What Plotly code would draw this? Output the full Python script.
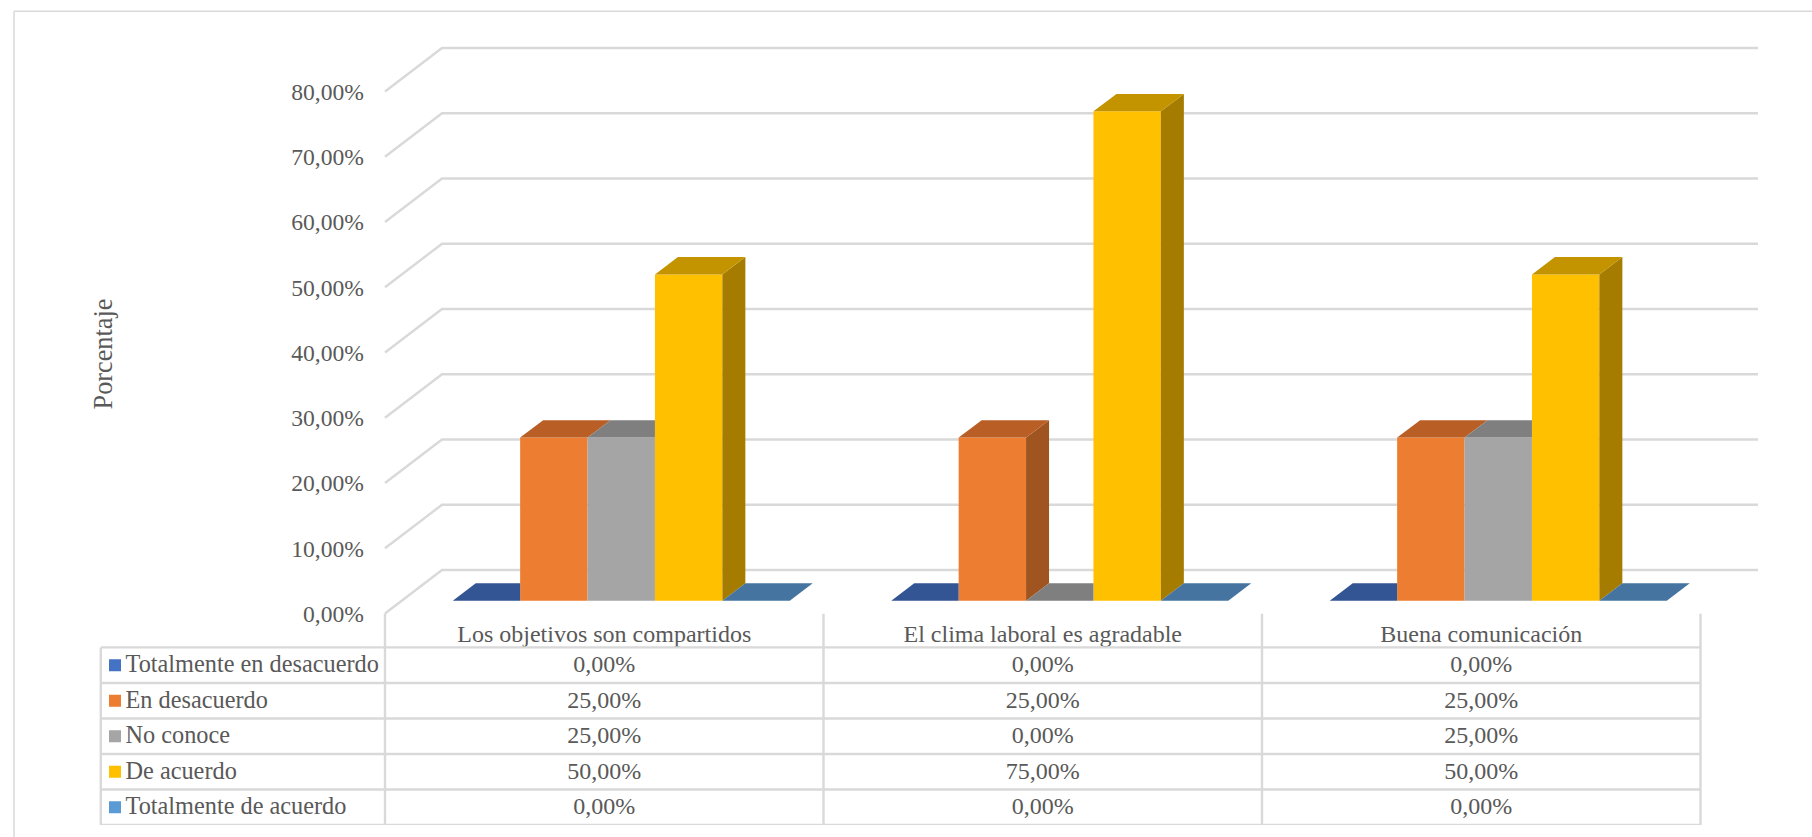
import plotly.graph_objects as go

categories = ["Los objetivos son compartidos", "El clima laboral es agradable", "Buena comunicación"]
series_names = ["Totalmente en desacuerdo", "En desacuerdo", "No conoce", "De acuerdo", "Totalmente de acuerdo"]
totalmente_en_desacuerdo = [0, 0, 0]
en_desacuerdo = [25, 25, 25]
no_conoce = [25, 0, 25]
de_acuerdo = [50, 75, 50]
totalmente_de_acuerdo = [0, 0, 0]
y_ticks = [0, 10, 20, 30, 40, 50, 60, 70, 80]

series_values = [totalmente_en_desacuerdo, en_desacuerdo, no_conoce, de_acuerdo, totalmente_de_acuerdo]
front_colors = ["#4472C4", "#ED7D31", "#A5A5A5", "#FFC000", "#5B9BD5"]
top_colors = ["#335593", "#B95E25", "#7F7F7F", "#C49300", "#44749F"]
side_colors = ["#2A4A80", "#A0541F", "#6E6E6E", "#A67C00", "#3A6389"]
GRID = "#D9D9D9"
TEXT = "#595959"
FONT = "Liberation Serif"

W, H = 1812, 837
CAT_PX = 438.5
UNIT_PX = 6.525
X0_PX = 385.0
Y0_PX = 613.5


def xd(px):
    return -0.5 + (px - X0_PX) / CAT_PX


def fmt(v):
    return f"{v:.2f}".replace(".", ",") + "%"


bar_w = 67.4 / CAT_PX
n = len(series_names)
bar_shift = 17.0 / CAT_PX
baseline = 12.8 / UNIT_PX
depth_x = 23.0 / CAT_PX
depth_y = 17.4 / UNIT_PX
wall_x = 57.0 / CAT_PX
wall_y = 43.5 / UNIT_PX

fig = go.Figure()

# front faces
for name, vals, col in zip(series_names, series_values, front_colors):
    fig.add_trace(go.Bar(
        x=[i + bar_shift for i in range(len(categories))], y=vals, base=baseline,
        name=name, marker=dict(color=col, line=dict(width=0)), showlegend=False,
    ))

# top and side faces (later series hide what lies behind their front faces)
for s, (vals, top_c, side_c) in enumerate(zip(series_values, top_colors, side_colors)):
    for c, v in enumerate(vals):
        left = c + bar_shift + (s - n / 2) * bar_w
        right = left + bar_w
        nxt = series_values[s + 1][c] if s + 1 < n else -1
        if nxt <= v:
            low = max(nxt, 0)
            fig.add_trace(go.Scatter(
                x=[right, right + depth_x, right + depth_x, right, right],
                y=[baseline + low, baseline + low + depth_y, baseline + v + depth_y, baseline + v, baseline + low],
                mode="lines", fill="toself", fillcolor=side_c, line=dict(width=0),
                hoverinfo="skip", showlegend=False,
            ))
        if nxt > v:
            xs = [left, left + depth_x, right, right, left]
            ys = [baseline + v, baseline + v + depth_y, baseline + v + depth_y, baseline + v, baseline + v]
        else:
            xs = [left, left + depth_x, right + depth_x, right, left]
            ys = [baseline + v, baseline + v + depth_y, baseline + v + depth_y, baseline + v, baseline + v]
        fig.add_trace(go.Scatter(
            x=xs, y=ys, mode="lines", fill="toself", fillcolor=top_c, line=dict(width=0),
            hoverinfo="skip", showlegend=False,
        ))

# data table
rows = list(range(n))
fig.add_trace(go.Scatter(
    x=[xd(125.5)] * n, y=[r + 0.53 for r in rows], yaxis="y2", mode="text",
    text=series_names, textposition="middle right",
    textfont=dict(family=FONT, size=24.3, color=TEXT), hoverinfo="skip", showlegend=False,
))
fig.add_trace(go.Scatter(
    x=[xd(115)] * n, y=[r + 0.5 for r in rows], yaxis="y2", mode="markers",
    marker=dict(symbol="square", size=12, color=front_colors, line=dict(width=0)),
    hoverinfo="skip", showlegend=False,
))
for c in range(len(categories)):
    fig.add_trace(go.Scatter(
        x=[c] * n, y=[r + 0.53 for r in rows], yaxis="y2", mode="text",
        text=[fmt(series_values[r][c]) for r in rows], textposition="middle center",
        textfont=dict(family=FONT, size=24, color=TEXT), hoverinfo="skip", showlegend=False,
    ))

shapes = []
line = dict(color=GRID, width=2.4)
# walls / gridlines
x_front = xd(X0_PX)
x_back = x_front + wall_x
x_end = xd(1758)
for t in y_ticks:
    shapes.append(dict(type="path", xref="x", yref="y", layer="below", line=line,
                       path=f"M {x_front} {t} L {x_back} {t + wall_y} L {x_end} {t + wall_y}"))
# table rules
header_top = -(647 - 613) / 35.6
x_table = xd(100.8)
x_right = len(categories) - 0.5
for r in range(n + 1):
    shapes.append(dict(type="line", xref="x", yref="y2", x0=x_table, x1=x_right, y0=r, y1=r, line=line, layer="below"))
shapes.append(dict(type="line", xref="x", yref="y2", x0=x_table, x1=x_table, y0=0, y1=n, line=line, layer="below"))
for c in range(len(categories) + 1):
    shapes.append(dict(type="line", xref="x", yref="y2", x0=c - 0.5, x1=c - 0.5, y0=header_top, y1=n, line=line, layer="below"))
# outer frame
shapes.append(dict(type="line", xref="paper", yref="paper", x0=14 / W, x1=1, y0=1 - 11.3 / H, y1=1 - 11.3 / H,
                   line=dict(color=GRID, width=1.5), layer="below"))
shapes.append(dict(type="line", xref="paper", yref="paper", x0=14 / W, x1=14 / W, y0=0, y1=1 - 11.3 / H,
                   line=dict(color=GRID, width=1.5), layer="below"))

fig.update_layout(
    width=W, height=H, margin=dict(l=0, r=0, t=0, b=0), autosize=False,
    paper_bgcolor="white", plot_bgcolor="rgba(0,0,0,0)", showlegend=False,
    barmode="group", bargap=1 - n * bar_w, bargroupgap=0,
    shapes=shapes,
    xaxis=dict(
        domain=[0, 1], range=[xd(0), xd(W)], anchor="free", position=1 - Y0_PX / H,
        tickmode="array", tickvals=list(range(len(categories))), ticktext=categories,
        ticks="", showgrid=False, zeroline=False, showline=False, ticklabelstandoff=3,
        tickfont=dict(family=FONT, size=24, color=TEXT),
    ),
    yaxis=dict(
        domain=[0, 1], range=[-(H - Y0_PX) / UNIT_PX, Y0_PX / UNIT_PX], anchor="free", position=X0_PX / W,
        tickmode="array", tickvals=y_ticks, ticktext=[fmt(t) for t in y_ticks],
        ticks="", showgrid=False, zeroline=False, showline=False, ticklabelstandoff=21,
        tickfont=dict(family=FONT, size=23.6, color=TEXT),
    ),
    yaxis2=dict(
        domain=[1 - 825 / H, 1 - Y0_PX / H], range=[n, header_top], anchor="x",
        visible=False,
    ),
    annotations=[dict(text="Porcentaje", xref="paper", yref="paper", x=103 / W, y=1 - 354.5 / H,
                      showarrow=False, textangle=-90, xanchor="center", yanchor="middle",
                      font=dict(family=FONT, size=26.3, color=TEXT))],
)

fig.write_html("out.html", config={"displayModeBar": False},
               post_script="document.body.style.margin='0';document.body.style.overflow='hidden';")
